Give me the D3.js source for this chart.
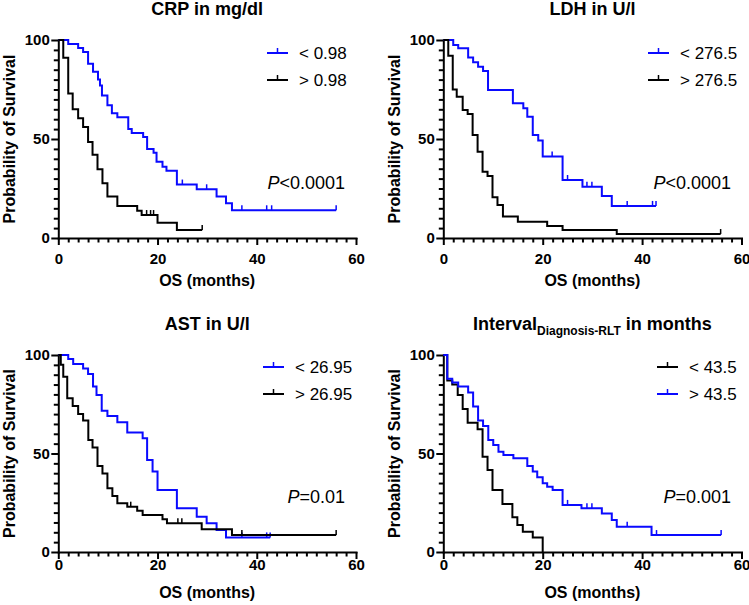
<!DOCTYPE html>
<html><head><meta charset="utf-8">
<script src="https://cdn.jsdelivr.net/npm/d3@7"></script>
<style>body{margin:0;background:#fff} svg{display:block}</style>
</head><body>
<svg id="c" width="749" height="605"></svg>
<script>
// ---------- data ----------
const xMajorTicks = [0, 20, 40, 60];
const yMajorTicks = [0, 50, 100];
const titles = ["CRP in mg/dl", "LDH in U/l", "AST in U/l", "Interval"];
const titleSub = ["", "", "", "Diagnosis-RLT"];
const titleTail = ["", "", "", " in months"];
const pValues = ["<0.0001", "<0.0001", "=0.01", "=0.001"];
const legendLabels = [["< 0.98", "> 0.98"], ["< 276.5", "> 276.5"], ["< 26.95", "> 26.95"], ["< 43.5", "> 43.5"]];

// CRP
const crpLowT = [2, 4, 5, 6, 7, 8, 8.4, 8.8, 9.9, 10.8, 11.9, 14.1, 14.8, 17.1, 17.9, 19.2, 19.8, 21, 21.8, 23.9, 27.9, 31.9, 33.8, 35];
const crpLowS = [98, 96, 94, 88, 84, 80, 77, 72, 67, 63, 61, 55, 53, 51, 45, 43, 38.5, 36, 34, 27, 24.6, 21, 17.5, 14];
const crpLowCens = [25, 29.9, 37, 42, 43, 56];
const crpLowEnd = 56;
const crpHighT = [1, 2, 2.9, 4, 5, 6, 6.9, 7.9, 8.9, 9.9, 11.9, 15.9, 16.8, 20, 23.9];
const crpHighS = [91, 73, 65, 60.5, 56, 48.5, 42, 34.7, 27.6, 21, 16.2, 13.8, 11.6, 7.7, 4];
const crpHighCens = [17.8, 18.6, 19.2, 29];
const crpHighEnd = 29;
// LDH
const ldhLowT = [2, 3, 5, 6, 7, 8, 9, 14, 16.1, 16.9, 18, 19.1, 20, 24, 28, 31.9, 33.9];
const ldhLowS = [97.5, 95.8, 91.2, 88.7, 86.5, 84.3, 74.7, 68, 65.5, 61.3, 52, 49.2, 41.1, 29.3, 25.9, 21.2, 16.2];
const ldhLowCens = [21.9, 25, 28.9, 29.9, 37, 42.1, 42.8];
const ldhLowEnd = 42.8;
const ldhHighT = [1, 1.9, 2.7, 3.9, 4.9, 5.9, 6.9, 7.9, 8.9, 9.9, 10.9, 12, 15, 20.9, 24, 34.9];
const ldhHighS = [92, 75, 71.4, 64.6, 62.6, 52, 43.6, 33.5, 31.3, 20.6, 16.7, 10.8, 8.2, 6.1, 4, 2];
const ldhHighCens = [55.8];
const ldhHighEnd = 55.8;
// AST
const astLowT = [2, 3, 5, 6, 7, 7.7, 8.75, 9.9, 11.9, 13.9, 17, 17.9, 19, 20, 23.9, 27.9, 29.9, 31.9, 33.8];
const astLowS = [98, 95.4, 93.2, 90.4, 84, 79.7, 71.7, 69, 65.8, 60.6, 57.7, 46.7, 40.8, 31.5, 22.2, 17.9, 14.6, 11.2, 7.4];
const astLowCens = [37, 42, 42.7];
const astLowEnd = 42.7;
const astHighT = [0.5, 1, 1.8, 2.9, 4, 5, 6.05, 6.9, 7.9, 8.9, 9.9, 10.9, 11.9, 13.9, 15.9, 17, 21, 21.9, 28.9, 35];
const astHighS = [95, 89, 78, 74.1, 70, 66.7, 56.9, 53.1, 43.7, 39.9, 32.3, 28.4, 24.7, 23, 21, 18.8, 16.6, 14.6, 11.5, 8.6];
const astHighCens = [14.6, 24.1, 24.9, 37, 56];
const astHighEnd = 56;
// Interval
const intLowT = [0.8, 1.8, 2.9, 3.9, 4.9, 6.9, 7.9, 8.9, 9.9, 11.9, 13.9, 14.9, 16, 18, 20];
const intLowS = [87, 85, 79.7, 72.6, 65.6, 62.3, 48.4, 41.6, 31.5, 24.4, 17.6, 13.7, 10.3, 7.4, 0];
const intLowCens = [];
const intLowEnd = 20;
const intHighT = [0.8, 1.8, 3, 5, 6, 7, 8, 9.05, 10.05, 11.1, 12.1, 14.1, 16.9, 18, 18.9, 20, 20.9, 22, 24, 27.8, 31.9, 33.9, 34.9, 41.9];
const intHighS = [88, 86, 84, 81, 73.8, 66.7, 64, 56.9, 54.3, 50.9, 49.2, 47.6, 43.7, 40.8, 37.9, 34.9, 33.1, 31.5, 23.9, 22.2, 19.6, 16.2, 12.8, 8.6];
const intHighCens = [25, 28.9, 29.9, 37, 42.9, 55.9];
const intHighEnd = 55.9;

// ---------- layout ----------
const BLUE = "#0a0aff", BLACK = "#000";
const FONT = "Arial, 'Liberation Sans', Helvetica, sans-serif";
const svg = d3.select("#c");

const panels = [
  {left: 58.3, right: 356, top: 40, bottom: 238, tickLabelOff: 26, osBase: 286, legX: 267, legY: 53, pX: 345, pY: 189,
   series: [{t: crpLowT, s: crpLowS, c: crpLowCens, end: crpLowEnd, col: BLUE}, {t: crpHighT, s: crpHighS, c: crpHighCens, end: crpHighEnd, col: BLACK}],
   legCols: [BLUE, BLACK]},
  {left: 443.3, right: 741.5, top: 40, bottom: 238, tickLabelOff: 26, osBase: 286, legX: 648, legY: 53, pX: 731, pY: 189,
   series: [{t: ldhLowT, s: ldhLowS, c: ldhLowCens, end: ldhLowEnd, col: BLUE}, {t: ldhHighT, s: ldhHighS, c: ldhHighCens, end: ldhHighEnd, col: BLACK}],
   legCols: [BLUE, BLACK]},
  {left: 58.3, right: 356, top: 355, bottom: 552, tickLabelOff: 17.5, osBase: 598, legX: 263, legY: 367, pX: 345, pY: 503,
   series: [{t: astLowT, s: astLowS, c: astLowCens, end: astLowEnd, col: BLUE}, {t: astHighT, s: astHighS, c: astHighCens, end: astHighEnd, col: BLACK}],
   legCols: [BLUE, BLACK]},
  {left: 443.3, right: 741.5, top: 355, bottom: 552, tickLabelOff: 17.5, osBase: 598, legX: 657, legY: 367, pX: 731, pY: 503,
   series: [{t: intLowT, s: intLowS, c: intLowCens, end: intLowEnd, col: BLACK}, {t: intHighT, s: intHighS, c: intHighCens, end: intHighEnd, col: BLUE}],
   legCols: [BLACK, BLUE]}
];

function stepPoints(times, surv, end) {
  const pts = [[0, 100]];
  let prev = 100;
  times.forEach((t, i) => { pts.push([t, prev]); pts.push([t, surv[i]]); prev = surv[i]; });
  pts.push([end, prev]);
  return pts;
}
function survAt(times, surv, t) {
  let v = 100;
  times.forEach((tt, i) => { if (tt <= t) v = surv[i]; });
  return v;
}

panels.forEach((p, pi) => {
  const x = d3.scaleLinear().domain([0, 60]).range([p.left, p.right]);
  const y = d3.scaleLinear().domain([0, 100]).range([p.bottom, p.top]);
  const g = svg.append("g");

  // minor ticks
  const xMinor = d3.range(0, 61, 2).filter(v => v % 20 !== 0);
  const yMinor = d3.range(0, 101, 5).filter(v => v % 50 !== 0);
  g.append("g").attr("transform", `translate(0,${p.bottom})`)
    .call(d3.axisBottom(x).tickValues(xMinor).tickSize(4.5).tickSizeOuter(0).tickFormat(""))
    .call(a => a.select(".domain").remove());
  g.append("g").attr("transform", `translate(${p.left},0)`)
    .call(d3.axisLeft(y).tickValues(yMinor).tickSize(4.5).tickSizeOuter(0).tickFormat(""))
    .call(a => a.select(".domain").remove());
  // major axes
  const xa = g.append("g").attr("transform", `translate(0,${p.bottom})`)
    .call(d3.axisBottom(x).tickValues(xMajorTicks).tickSize(7).tickSizeOuter(0).tickPadding(p.tickLabelOff - 7 - 10.6));
  const ya = g.append("g").attr("transform", `translate(${p.left},0)`)
    .call(d3.axisLeft(y).tickValues(yMajorTicks).tickSize(7).tickSizeOuter(0).tickPadding(1.5));
  g.selectAll(".tick line, .domain").attr("stroke", "#000").attr("stroke-width", 2);
  g.selectAll(".domain").attr("stroke-linecap", "square");
  g.selectAll(".tick text").attr("font-family", FONT).attr("font-weight", "bold").attr("font-size", 15).attr("fill", "#000");

  // curves
  const line = d3.line().x(d => x(d[0])).y(d => y(d[1]));
  p.series.forEach(se => {
    g.append("path").attr("d", line(stepPoints(se.t, se.s, se.end)))
      .attr("fill", "none").attr("stroke", se.col).attr("stroke-width", 2).attr("stroke-linejoin", "miter");
    g.selectAll(null).data(se.c).enter().append("line")
      .attr("x1", d => x(d)).attr("x2", d => x(d))
      .attr("y1", d => y(survAt(se.t, se.s, d)))
      .attr("y2", d => y(survAt(se.t, se.s, d)) - 5)
      .attr("stroke", se.col).attr("stroke-width", 1.5);
  });

  // title
  const cx = (p.left + p.right) / 2;
  const tt = g.append("text").attr("x", cx).attr("y", p.top - 25).attr("text-anchor", "middle")
    .attr("font-family", FONT).attr("font-weight", "bold").attr("font-size", 18).text(titles[pi]);
  if (titleSub[pi]) {
    tt.append("tspan").attr("font-size", 12).attr("dy", 5).text(titleSub[pi]);
    tt.append("tspan").attr("dy", -5).text(titleTail[pi]);
  }

  // x axis title
  g.append("text").attr("x", cx).attr("y", p.osBase).attr("text-anchor", "middle")
    .attr("font-family", FONT).attr("font-weight", "bold").attr("font-size", 16).text("OS (months)");
  // y axis title
  const cy = (p.top + p.bottom) / 2;
  g.append("text").attr("transform", `translate(${p.left - 43},${cy}) rotate(-90)`).attr("text-anchor", "middle")
    .attr("font-family", FONT).attr("font-weight", "bold").attr("font-size", 16).text("Probability of Survival");

  // legend
  legendLabels[pi].forEach((lab, li) => {
    const ly = p.legY + li * 27;
    g.append("line").attr("x1", p.legX).attr("x2", p.legX + 21).attr("y1", ly).attr("y2", ly)
      .attr("stroke", p.legCols[li]).attr("stroke-width", 2);
    g.append("line").attr("x1", p.legX + 10.5).attr("x2", p.legX + 10.5).attr("y1", ly).attr("y2", ly - 5)
      .attr("stroke", p.legCols[li]).attr("stroke-width", 1.5);
    g.append("text").attr("x", p.legX + 32).attr("y", ly + 6)
      .attr("font-family", FONT).attr("font-size", 17).text(lab);
  });

  // p value
  const pt = g.append("text").attr("x", p.pX).attr("y", p.pY).attr("text-anchor", "end")
    .attr("font-family", FONT).attr("font-size", 18);
  pt.append("tspan").attr("font-style", "italic").text("P");
  pt.append("tspan").text(pValues[pi]);
});
</script>
</body></html>
